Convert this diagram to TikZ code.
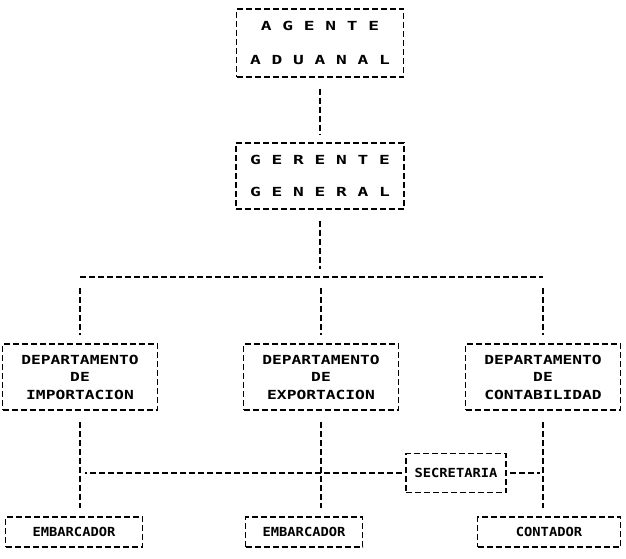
\documentclass[tikz,border=0pt]{standalone}
\usepackage{fontspec}
\newfontfamily\dotfont[FakeStretch=1.3]{DejaVu Sans Mono}
\newfontfamily\dotwide[FakeStretch=1.43]{DejaVu Sans Mono}
\newfontfamily\dotslim[FakeStretch=1.1]{DejaVu Sans Mono}

\begin{document}
\begin{tikzpicture}[x=1pt, y=-1pt, line width=1.5pt,
    every node/.style={font=\dotfont\bfseries\fontsize{12.5}{17.5}\selectfont},
    wide/.style={font=\dotwide\bfseries\fontsize{12.5}{17.5}\selectfont},
    slim/.style={font=\dotslim\bfseries\fontsize{12.5}{17.5}\selectfont},
    box/.style={draw, dash pattern=on 6pt off 3pt, align=center, inner sep=0pt},
    link/.style={dash pattern=on 6pt off 3pt, shorten <=11pt, shorten >=8pt},
    wire/.style={dash pattern=on 6pt off 3pt}]
            \useasboundingbox (0,0) rectangle (626,559);

            \node[box, wide, minimum width=167pt, minimum height=68pt] (agente) at (320,43) {A G E N T E\\[16pt]A D U A N A L};
            \node[box, wide, minimum width=168pt, minimum height=66pt] (gerente) at (320,176) {G E R E N T E\\[14pt]G E N E R A L};

            \node[box, minimum width=155pt, minimum height=66pt] (dimp) at (80,377) {DEPARTAMENTO\\DE\\IMPORTACION};
            \node[box, minimum width=155pt, minimum height=66pt] (dexp) at (321,377) {DEPARTAMENTO\\DE\\EXPORTACION};
            \node[box, minimum width=155pt, minimum height=66pt] (dcon) at (543,377) {DEPARTAMENTO\\DE\\CONTABILIDAD};

            \node[box, slim, minimum width=100pt, minimum height=39pt] (secr) at (456,473) {SECRETARIA};

            \node[box, slim, minimum width=137pt, minimum height=30pt] (emb1) at (74,532) {EMBARCADOR};
            \node[box, slim, minimum width=117pt, minimum height=30pt] (emb2) at (304,532) {EMBARCADOR};
            \node[box, slim, minimum width=143pt, minimum height=30pt] (cont) at (549,532) {CONTADOR};

            \coordinate (busL) at (80,277);
            \coordinate (busM) at (320,277);
            \coordinate (busR) at (543,277);

            \draw[link] (agente) -- (gerente);
            \draw[link] (gerente) -- (busM);
            \draw[wire] (busL) -- (busR);
            \draw[link] (busL) -- (dimp);
            \draw[link] (busM -| dexp) -- (dexp);
            \draw[link] (busR) -- (dcon);

            \draw[link] (dimp) -- (dimp |- emb1.north);
            \draw[link] (dexp) -- (dexp |- emb2.north);
            \draw[link] (dcon) -- (dcon |- cont.north);
            \draw[link, shorten <=3pt, shorten >=5pt] (secr) -- (secr -| dimp);
            \draw[link, shorten <=3pt, shorten >=3pt] (secr) -- (secr -| dcon);
        \end{tikzpicture}
\end{document}
